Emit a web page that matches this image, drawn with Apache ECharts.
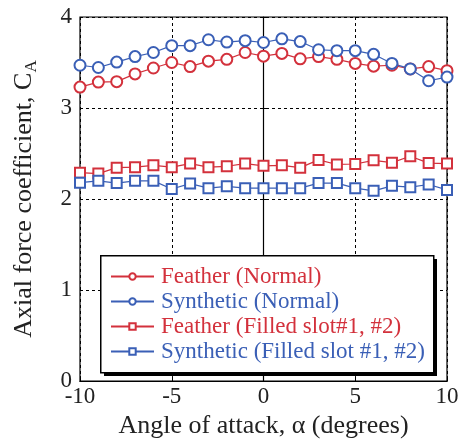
<!DOCTYPE html>
<html>
<head>
<meta charset="utf-8">
<script src="https://cdn.jsdelivr.net/npm/echarts@6/dist/echarts.min.js"></script>
<style>
  html, body { margin: 0; padding: 0; background: #fff; }
  #main { width: 463px; height: 444px; }
</style>
</head>
<body>
<div id="main"></div>
<script>
// angle of attack (deg)
var alpha = [-10, -9, -8, -7, -6, -5, -4, -3, -2, -1, 0, 1, 2, 3, 4, 5, 6, 7, 8, 9, 10];

var featherNormal = [3.23, 3.285, 3.29, 3.375, 3.44, 3.50, 3.455, 3.515, 3.535, 3.61, 3.57,
  3.60, 3.54, 3.565, 3.535, 3.49, 3.46, 3.47, 3.43, 3.455, 3.41];
var syntheticNormal = [3.47, 3.445, 3.505, 3.565, 3.61, 3.685, 3.685, 3.75, 3.725, 3.74, 3.72,
  3.76, 3.73, 3.64, 3.63, 3.63, 3.59, 3.49, 3.43, 3.30, 3.34];
var featherFilled = [2.29, 2.28, 2.345, 2.35, 2.37, 2.35, 2.39, 2.35, 2.36, 2.39, 2.365,
  2.37, 2.345, 2.43, 2.38, 2.385, 2.425, 2.40, 2.47, 2.395, 2.39];
var syntheticFilled = [2.18, 2.20, 2.175, 2.20, 2.20, 2.11, 2.17, 2.12, 2.14, 2.12, 2.12,
  2.12, 2.12, 2.175, 2.175, 2.12, 2.09, 2.145, 2.13, 2.16, 2.10];

var seriesNames = ['Feather (Normal)', 'Synthetic (Normal)', 'Feather (Filled slot#1, #2)', 'Synthetic (Filled slot #1, #2)'];

var RED = '#d3313c';
var BLUE = '#3a5fb6';
var FONT = '"Liberation Serif", "DejaVu Serif", serif';

function pairs(vals) {
  return alpha.map(function (a, i) { return [a, vals[i]]; });
}

function makeSeries(name, vals, color, symbol, size) {
  return {
    name: name,
    type: 'line',
    data: pairs(vals),
    symbol: symbol,
    symbolSize: size,
    showAllSymbol: true,
    lineStyle: { color: color, width: 1.2 },
    itemStyle: { color: color, borderColor: color, borderWidth: 1.2 },
    emphasis: { disabled: true },
    animation: false
  };
}

var chart = echarts.init(document.getElementById('main'));
var option = {
  animation: false,
  textStyle: { fontFamily: FONT },
  grid: {
    left: 80, right: 16, top: 17, bottom: 61,
    show: true, borderColor: '#000', borderWidth: 1.2, backgroundColor: 'transparent'
  },
  xAxis: {
    type: 'value', min: -10, max: 10, interval: 5,
    axisLine: { onZero: false, lineStyle: { color: '#000', width: 1.2 } },
    axisTick: { inside: true, length: 5, lineStyle: { color: '#000' } },
    axisLabel: { color: '#222', fontSize: 23, fontFamily: FONT, margin: 4 },
    splitLine: { show: true, lineStyle: { color: '#000', type: [3, 3], width: 1 } },
    name: 'Angle of attack, \u03b1 (degrees)',
    nameLocation: 'middle', nameGap: 26,
    nameTextStyle: { color: '#222', fontSize: 26, fontFamily: FONT }
  },
  yAxis: {
    type: 'value', min: 0, max: 4, interval: 1,
    axisLine: { show: true, lineStyle: { color: '#000', width: 1.2 } },
    axisTick: { show: true, inside: true, length: 5, lineStyle: { color: '#000' } },
    axisLabel: { color: '#222', fontSize: 23, fontFamily: FONT, margin: 8 },
    splitLine: { show: true, lineStyle: { color: '#000', type: [3, 3], width: 1 } },
    name: 'Axial force coefficient, C{sub|A}',
    nameLocation: 'middle', nameGap: 40,
    nameTextStyle: {
      color: '#222', fontSize: 26, fontFamily: FONT,
      rich: { sub: { fontSize: 17, fontFamily: FONT, color: '#222', verticalAlign: 'bottom', padding: [14, 0, 0, 0] } }
    }
  },
  // legend frame with solid drop shadow
  graphic: [
    { type: 'rect', z: 3, left: 104, top: 259, shape: { width: 333, height: 117 }, style: { fill: '#000' } },
    { type: 'rect', z: 3, left: 100, top: 255, shape: { width: 333, height: 117 }, style: { fill: '#fff', stroke: '#000', lineWidth: 1.5 } }
  ],
  legend: {
    orient: 'vertical',
    left: 110, top: 265,
    padding: 0,
    itemGap: 2,
    itemWidth: 43, itemHeight: 8,
    textStyle: { fontSize: 23, fontFamily: FONT, padding: [0, 0, 0, 2] },
    data: [
      { name: seriesNames[0], textStyle: { color: RED } },
      { name: seriesNames[1], textStyle: { color: BLUE } },
      { name: seriesNames[2], textStyle: { color: RED } },
      { name: seriesNames[3], textStyle: { color: BLUE } }
    ]
  },
  series: [
    makeSeries(seriesNames[0], featherNormal, RED, 'emptyCircle', 11),
    makeSeries(seriesNames[1], syntheticNormal, BLUE, 'emptyCircle', 11),
    makeSeries(seriesNames[2], featherFilled, RED, 'emptyRect', 10),
    makeSeries(seriesNames[3], syntheticFilled, BLUE, 'emptyRect', 10)
  ]
};
chart.setOption(option);
</script>
</body>
</html>
